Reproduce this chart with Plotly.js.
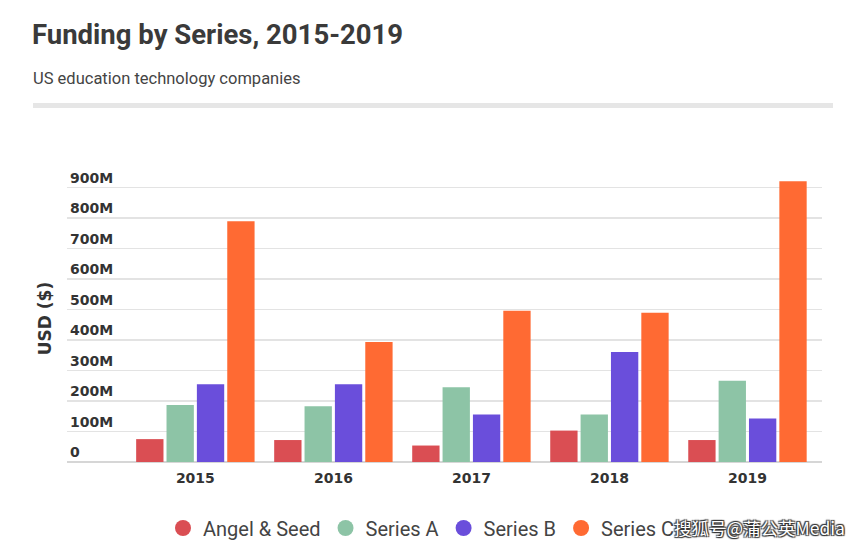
<!DOCTYPE html>
<html>
<head>
<meta charset="utf-8">
<script src="https://cdn.plot.ly/plotly-3.0.1.min.js"></script>
<style>html,body{margin:0;padding:0;background:#fff;}#chart{width:864px;height:548px;}</style>
</head>
<body>
<div id="chart"></div>
<script>
const years = ['2015', '2016', '2017', '2018', '2019'];
const seriesNames = ['Angel & Seed', 'Series A', 'Series B', 'Series C'];
const angelSeed = [75, 72, 54, 103, 72];
const seriesA = [187, 183, 245, 156, 266];
const seriesB = [255, 255, 156, 361, 143];
const seriesC = [789, 393, 496, 489, 920];
const colors = ['#DA4E53', '#8DC4A6', '#6A4EDB', '#FF6A33'];
const tickVals = [0, 100, 200, 300, 400, 500, 600, 700, 800, 900];
const tickText = ['0', '100M', '200M', '300M', '400M', '500M', '600M', '700M', '800M', '900M'];

const values = [angelSeed, seriesA, seriesB, seriesC];
const traces = [];
values.forEach((v, i) => {
  traces.push({
    type: 'bar', x: years, y: v, name: seriesNames[i],
    marker: {color: colors[i], line: {width: 0}},
    showlegend: false, hoverinfo: 'x+y+name'
  });
});
values.forEach((v, i) => {
  traces.push({
    type: 'scatter', mode: 'markers', x: [years[0]], y: [null], name: seriesNames[i],
    marker: {color: colors[i], size: 18, symbol: 'circle'}, showlegend: true
  });
});

// plot area: x 67..822, y baseline 462, 900M at 187
const yTop = 990;
const pxPer = (462 - 187) / 900;
const marginT = 462 - yTop * pxPer;
const plotH = 462 - marginT;
const py = (pix) => (462 - pix) / plotH;   // paper y from pixel row
const px = (pix) => (pix - 67) / 755;      // paper x from pixel column

const layout = {
  width: 864, height: 548,
  paper_bgcolor: '#fff', plot_bgcolor: '#fff',
  margin: {l: 67, r: 42, t: marginT, b: 548 - 462, autoexpand: false},
  barmode: 'group', bargap: 0.12, bargroupgap: 0.1,
  font: {family: 'Roboto, sans-serif', color: '#333'},
  title: {
    text: 'Funding by Series, 2015-2019',
    font: {family: 'Roboto, sans-serif', size: 27.5, color: '#3a3a3a', weight: 700},
    xref: 'container', yref: 'container', x: 32/864, xanchor: 'left', y: 1 - 34/548, yanchor: 'middle'
  },
  xaxis: {
    type: 'category', range: [-0.93, 4.54], automargin: false,
    showgrid: false, zeroline: false, showline: false, ticks: '',
    tickfont: {family: 'DejaVu Sans, sans-serif', size: 14, color: '#333', weight: 700},
    ticklabelstandoff: 6
  },
  yaxis: {
    range: [0, yTop], tickvals: tickVals, ticktext: tickText, automargin: false,
    ticklabelposition: 'inside top',
    tickfont: {family: 'DejaVu Sans, sans-serif', size: 14, color: '#333', weight: 700},
    showgrid: true, gridcolor: '#e3e3e3', gridwidth: 1.5,
    zeroline: true, zerolinecolor: '#d6d6d6', zerolinewidth: 2,
    showline: false, ticks: ''
  },
  legend: {
    orientation: 'h', xref: 'container', yref: 'container',
    x: 163/864, xanchor: 'left', y: 1 - 528/548, yanchor: 'middle',
    font: {family: 'Roboto, sans-serif', size: 20, color: '#444'},
    itemwidth: 30, tracegroupgap: 0
  },
  shapes: [{
    type: 'line', xref: 'paper', yref: 'paper',
    x0: px(33), x1: px(833), y0: py(105), y1: py(105),
    line: {color: '#e6e6e6', width: 5}
  }],
  annotations: [{
    text: 'US education technology companies', xref: 'paper', yref: 'paper',
    x: px(31), y: py(78), xanchor: 'left', yanchor: 'middle', showarrow: false,
    font: {family: 'Roboto, sans-serif', size: 16.5, color: '#444'}
  }, {
    text: 'USD ($)', xref: 'paper', yref: 'paper', textangle: -90,
    x: px(45), y: py(319), xanchor: 'center', yanchor: 'middle', showarrow: false,
    font: {family: 'DejaVu Sans, sans-serif', size: 17, color: '#333', weight: 700}
  }, {
    text: '搜狐号@蒲公英Media', xref: 'paper', yref: 'paper',
    x: px(847), y: py(528), xanchor: 'right', yanchor: 'middle', showarrow: false,
    font: {family: 'Noto Sans CJK SC, sans-serif', size: 17.5, color: '#ffffff', shadow: '1px 1px 1px #333, -1px -1px 1px #333, 1px -1px 1px #333, -1px 1px 1px #333'}
  }]
};

Plotly.newPlot('chart', traces, layout, {displayModeBar: false, staticPlot: true});
</script>
</body>
</html>
